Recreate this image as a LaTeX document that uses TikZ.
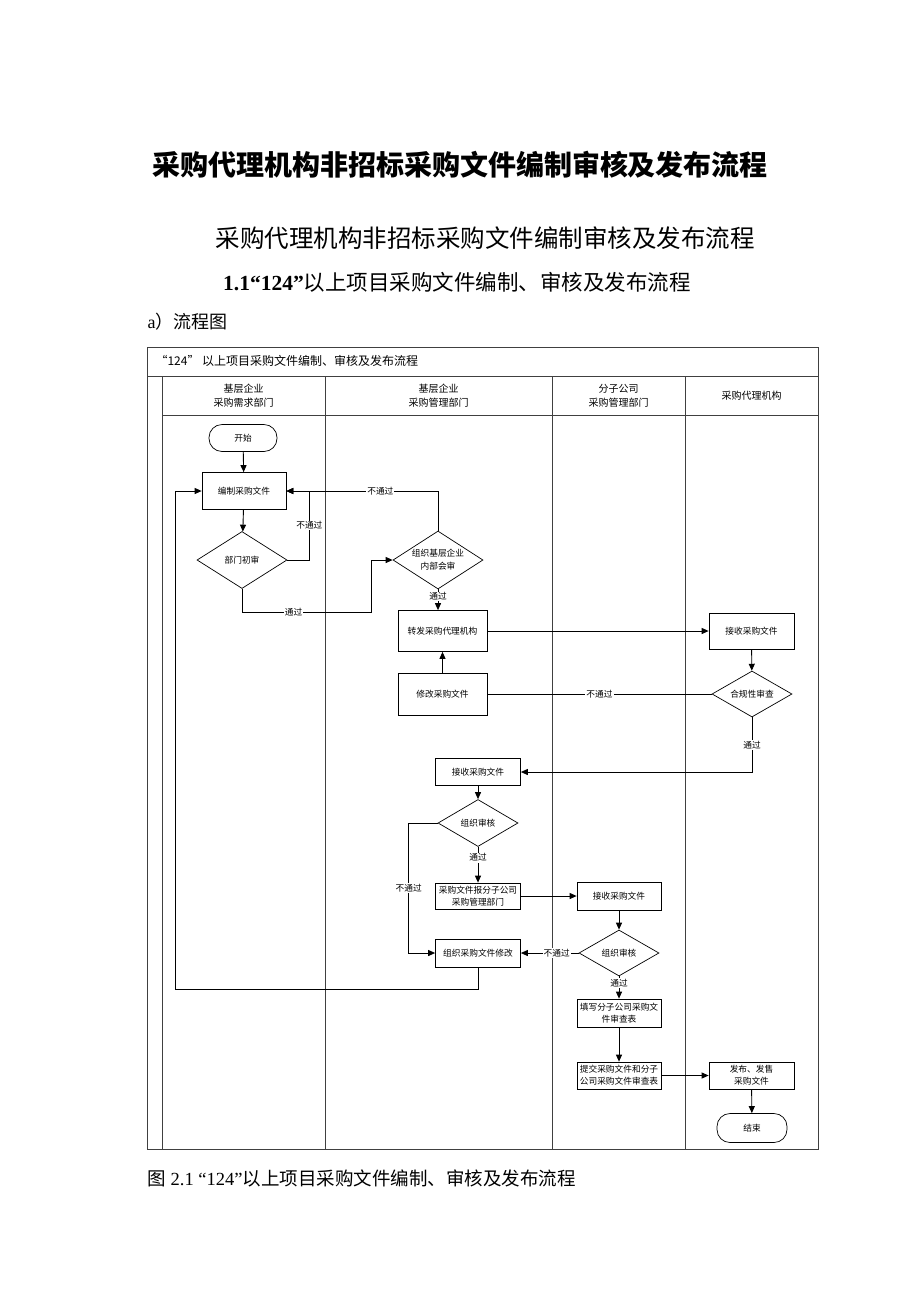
\documentclass[tikz,border=0pt]{standalone}
\usepackage{fontspec}
\setmainfont{Liberation Serif}
\newfontfamily\cjk{Noto Sans CJK SC}
\usetikzlibrary{shapes.geometric,arrows.meta}

\begin{document}
\begin{tikzpicture}[x=1pt,y=-1pt,
    frame/.style={draw=black!75,line width=0.8pt},
    box/.style={draw,line width=0.7pt,inner sep=1pt,align=center,
      font=\cjk\fontsize{8.7}{12}\selectfont},
    decision/.style={draw,diamond,line width=0.7pt,inner sep=0pt,aspect=1.6,
      align=center,font=\cjk\fontsize{8.7}{13}\selectfont},
    terminal/.style={draw,rectangle,rounded corners=13pt,line width=0.7pt,
      font=\cjk\fontsize{8.7}{11}\selectfont},
    lane/.style={align=center,font=\cjk\fontsize{10}{14}\selectfont},
    flow/.style={line width=0.9pt,-{Triangle[length=7pt,width=6pt]}},
    line/.style={line width=0.9pt},
    lbl/.style={fill=white,inner sep=1pt,font=\cjk\fontsize{8.7}{10}\selectfont}]

  \fill[white] (0,0) rectangle (920,1302);
  \useasboundingbox (0,0) rectangle (920,1302);

  % page headings
  \node[font=\cjk\bfseries\fontsize{28}{32}\selectfont] (maintitle) at (460,165)
    {采购代理机构非招标采购文件编制审核及发布流程};
  \node[font=\cjk\fontsize{24.5}{28}\selectfont] (subtitle) at (485,238)
    {采购代理机构非招标采购文件编制审核及发布流程};
  \node[font=\fontsize{21.5}{25}\selectfont] (section) at (457,282)
    {{\bfseries 1.1“124”}{\cjk 以上项目采购文件编制、审核及发布流程}};
  \node[anchor=west,font=\fontsize{18}{22}\selectfont] (para) at (144,322)
    {a{\cjk ）流程图}};

  % swimlane frame
  \draw[frame] (147,347) rectangle (818,1149);
  \draw[frame] (147,376) -- (818,376);
  \draw[frame] (162,376) -- (162,1149);
  \draw[frame] (162,415) -- (818,415);
  \foreach \x in {325,552,685}
    \draw[frame] (\x,376) -- (\x,1149);

  \node[anchor=west,font=\cjk\fontsize{12}{14}\selectfont] (chartname) at (152,361)
    {“124” 以上项目采购文件编制、审核及发布流程};
  \node[lane] (laneA) at (243.5,396) {基层企业\\采购需求部门};
  \node[lane] (laneB) at (438.5,396) {基层企业\\采购管理部门};
  \node[lane] (laneC) at (618.5,396) {分子公司\\采购管理部门};
  \node[lane] (laneD) at (751.5,396) {采购代理机构};

  % steps
  \node[terminal,minimum width=68pt,minimum height=27pt] (start) at (243,438) {开始};
  \node[box,minimum width=84pt,minimum height=37pt] (draft) at (244,491) {编制采购文件};
  \node[decision,minimum width=90pt,minimum height=57pt] (deptcheck) at (242,560) {部门初审};
  \node[decision,minimum width=90pt,minimum height=58pt] (orgreview) at (438,560)
    {组织基层企业\\内部会审};
  \node[box,minimum width=89pt,minimum height=41pt] (forward) at (442.5,631) {转发采购代理机构};
  \node[box,minimum width=89pt,minimum height=42pt] (modify) at (442.5,694) {修改采购文件};
  \node[box,minimum width=85pt,minimum height=36pt] (recvA) at (751.5,631) {接收采购文件};
  \node[decision,minimum width=80pt,minimum height=46pt] (compliance) at (752,694) {合规性审查};

  \node[box,minimum width=85pt,minimum height=27pt] (recvB) at (478,772) {接收采购文件};
  \node[decision,minimum width=80pt,minimum height=47pt] (auditB) at (478,823) {组织审核};
  \node[box,minimum width=85pt,minimum height=26pt] (reportB) at (478,896)
    {采购文件报分子公司\\采购管理部门};
  \node[box,minimum width=85pt,minimum height=28pt] (reviseB) at (478,953) {组织采购文件修改};

  \node[box,minimum width=84pt,minimum height=28pt] (recvC) at (619,896) {接收采购文件};
  \node[decision,minimum width=80pt,minimum height=46pt] (auditC) at (619,953) {组织审核};
  \node[box,minimum width=84pt,minimum height=28pt] (fillC) at (619,1013)
    {填写分子公司采购文\\件审查表};
  \node[box,minimum width=84pt,minimum height=27pt] (submitC) at (619,1075.5)
    {提交采购文件和分子\\公司采购文件审查表};
  \node[box,minimum width=85pt,minimum height=27pt] (publish) at (751.5,1075.5)
    {发布、发售\\采购文件};
  \node[terminal,minimum width=70pt,minimum height=29pt] (finish) at (752,1128) {结束};

  \coordinate (passA) at (371,612);
  \coordinate (loopB) at (175,989);

  % connectors
  \draw[flow] (start) -- (draft);
  \draw[flow] (draft) -- (deptcheck);
  \draw[flow] (deptcheck.east) -- ++(22,0) |- node[lbl,pos=0.25] {不通过} (draft.east);
  \draw[flow] (deptcheck.south) |- node[lbl,pos=0.7] {通过} (passA) |- (orgreview.west);
  \draw[flow] (orgreview.north) |- node[lbl,pos=0.69] {不通过} (draft.east);
  \draw[flow] (orgreview.south) -- node[lbl,inner sep=0.5pt,pos=0.35] {通过} (orgreview.south |- forward.north);
  \draw[flow] (forward) -- (recvA);
  \draw[flow] (recvA) -- (compliance);
  \draw[line] (compliance) -- node[lbl] {不通过} (modify);
  \draw[flow] (modify) -- (forward);
  \draw[flow] (compliance.south) |- node[lbl,pos=0.25] {通过} (recvB.east);
  \draw[flow] (recvB) -- (auditB);
  \draw[flow] (auditB) -- node[lbl,pos=0.3] {通过} (reportB);
  \draw[flow] (auditB.west) -- ++(-29,0) |- node[lbl,pos=0.25] {不通过} (reviseB.west);
  \draw[flow] (reviseB.south) |- (loopB) |- (draft.west);
  \draw[flow] (reportB) -- (recvC);
  \draw[flow] (recvC) -- (auditC);
  \draw[flow] (auditC) -- node[lbl,pos=0.38] {不通过} (reviseB);
  \draw[flow] (auditC) -- node[lbl,pos=0.3] {通过} (fillC);
  \draw[flow] (fillC) -- (submitC);
  \draw[flow] (submitC) -- (publish);
  \draw[flow] (publish) -- (finish);

  % caption
  \node[anchor=west,font=\fontsize{18.5}{22}\selectfont] (caption) at (144,1178)
    {{\cjk 图} 2.1 “124”{\cjk 以上项目采购文件编制、审核及发布流程}};
\end{tikzpicture}
\end{document}
